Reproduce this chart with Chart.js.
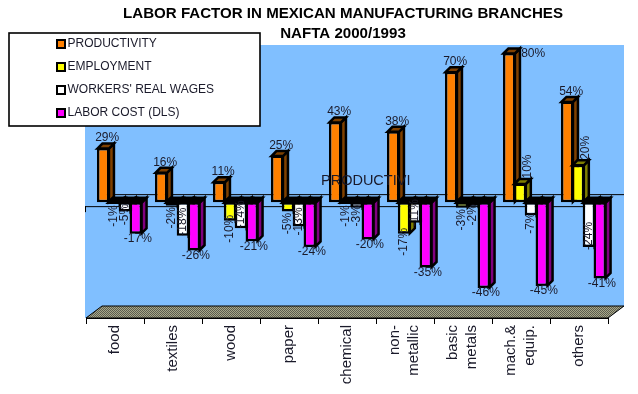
<!DOCTYPE html>
<html>
<head>
<meta charset="utf-8">
<title>Labor factor</title>
<script src="https://cdn.jsdelivr.net/npm/chart.js@4"></script>
<style>
html,body{margin:0;padding:0;background:#fff;}
#wrap{width:638px;height:394px;position:relative;}
</style>
</head>
<body>
<div id="wrap"><canvas id="c" width="638" height="394"></canvas></div>
<script>
const categories=['food','textiles','wood','paper','chemical',['non-','metallic'],['basic','metals'],['mach.&','equip.'],'others'];
const productivity=[29,16,11,25,43,38,70,80,54];
const employment=[-1,-2,-10,-5,-1,-17,-3,10,20];
const wages=[-5,-18,-14,-13,-3,-11,-2,-7,-24];
const laborCost=[-17,-26,-21,-24,-20,-35,-46,-45,-41];
const seriesNames=['PRODUCTIVITY','EMPLOYMENT',"WORKERS' REAL WAGES",'LABOR COST (DLS)'];
const fills=['#ff8000','#ffff00','#ffffff','#ff00ff'];
const sideFills=['#ff8000','#ffff00','#c0c0c0','#ff00ff'];

// los rótulos de salarios no siguen una regla clara en el original: corrimiento respecto del pie de barra
const wageLabelDy=[3,-14,-14,-5,8,-10,9,8,-11];
const WALL='#80bfff', TXT='#1a1a2a', FONT='"Liberation Sans", Arial, sans-serif';
const DX=4.5, DY=-4;   // plano de las barras respecto del plano frontal
const D=5;             // profundidad de cada barra
const BACK_X=16, BACK_Y=12; // fondo de la pared

function dither(color,dark){
  const p=document.createElement('canvas');p.width=2;p.height=2;
  const x=p.getContext('2d');
  x.fillStyle=color;x.fillRect(0,0,2,2);
  x.fillStyle=dark||'#000';
  x.fillRect(0,0,1,1);x.fillRect(1,1,1,1);
  return document.getElementById('c').getContext('2d').createPattern(p,'repeat');
}
function poly(ctx,pts,fill){
  ctx.beginPath();
  pts.forEach((p,i)=>i?ctx.lineTo(p[0],p[1]):ctx.moveTo(p[0],p[1]));
  ctx.closePath();
  ctx.fillStyle=fill;ctx.fill();
  ctx.lineWidth=2.5;ctx.strokeStyle='#000';ctx.lineJoin='miter';ctx.stroke();
}
function vtext(ctx,s,x,y){
  ctx.save();ctx.translate(x,y);ctx.rotate(-Math.PI/2);
  ctx.textAlign='center';ctx.textBaseline='middle';ctx.fillText(s,0,0);ctx.restore();
}

const wallPlugin={
  id:'wall',
  beforeDraw(chart){
    const ctx=chart.ctx,a=chart.chartArea,y0=chart.scales.y.getPixelForValue(0);
    ctx.save();
    ctx.fillStyle='#fff';ctx.fillRect(0,0,chart.width,chart.height);
    // pared
    ctx.fillStyle=WALL;
    ctx.beginPath();
    ctx.moveTo(a.left-1,a.top-BACK_Y);ctx.lineTo(a.right+BACK_X,a.top-BACK_Y);
    ctx.lineTo(a.right+BACK_X,a.bottom-BACK_Y);ctx.lineTo(a.right,a.bottom);ctx.lineTo(a.left-1,a.bottom);
    ctx.closePath();ctx.fill();
    // piso
    ctx.beginPath();
    ctx.moveTo(a.left,a.bottom);ctx.lineTo(a.left+BACK_X,a.bottom-BACK_Y);
    ctx.lineTo(a.right+BACK_X,a.bottom-BACK_Y);ctx.lineTo(a.right,a.bottom);ctx.closePath();
    ctx.fillStyle=dither('#a8a888','#5c5c50');ctx.fill();
    ctx.lineWidth=1;ctx.strokeStyle='#000';ctx.stroke();
    // líneas del cero, frente y fondo
    ctx.beginPath();
    ctx.moveTo(a.left-1,y0+.5);ctx.lineTo(a.right,y0+.5);
    ctx.moveTo(a.left+BACK_X,y0-BACK_Y+.5);ctx.lineTo(a.right+BACK_X,y0-BACK_Y+.5);
    ctx.moveTo(a.left-.5,y0);ctx.lineTo(a.left-.5,y0+6);
    ctx.stroke();
    ctx.restore();
  },
  beforeDatasetsDraw(chart){
    const ctx=chart.ctx,metas=chart.getSortedVisibleDatasetMetas();
    ctx.save();
    ctx.translate(DX,DY);
    categories.forEach((c,i)=>{
      metas.forEach((m,s)=>{
        const b=m.data[i],l=b.x-b.width/2+.5,r=b.x+b.width/2-.5;
        const top=Math.min(b.y,b.base)+.5,bot=Math.max(b.y,b.base)-.5;
        poly(ctx,[[r,top],[r+D,top-D],[r+D,bot-D],[r,bot]],dither(sideFills[s]));
        // en las barras negativas la cara superior queda casi toda negra
        poly(ctx,[[l,top],[l+D,top-D],[r+D,top-D],[r,top]],b.y>b.base?'#000':dither(sideFills[s]));
        b.draw(ctx);
      });
    });
    // rótulos de datos
    ctx.font='12px '+FONT;ctx.fillStyle=TXT;
    ctx.textAlign='center';ctx.textBaseline='middle';
    metas.forEach((m,s)=>{
      m.data.forEach((b,i)=>{
        const v=chart.data.datasets[s].data[i],txt=v+'%';
        if(s===0){
          if(v===80) ctx.fillText(txt,b.x+24,b.y+1);
          else ctx.fillText(txt,b.x+4,b.y-10);
        }else if(s===1){
          if(v>0) vtext(ctx,txt,b.x+8,b.y-17);
          else vtext(ctx,txt,b.x,b.y+(v<-5?8:12));
        }else if(s===2){
          vtext(ctx,txt,b.x,b.y+wageLabelDy[i]);
        }else{
          ctx.fillText(txt,b.x+2,b.y+5);
        }
      });
    });
    ctx.restore();
    return false;
  },
  afterDraw(chart){
    const ctx=chart.ctx,xs=chart.scales.x;
    ctx.save();
    // rótulos del eje: Chart.js no centra sobre la marca los de dos líneas girados
    ctx.font='15px '+FONT;ctx.fillStyle=TXT;ctx.textBaseline='middle';
    categories.forEach((c,i)=>{
      const lines=[].concat(c),px=xs.getPixelForTick(i)-.5;
      lines.forEach((t,k)=>{
        ctx.save();
        ctx.translate(px+(k-(lines.length-1)/2)*19,chart.chartArea.bottom+7);
        ctx.rotate(-Math.PI/2);ctx.textAlign='right';
        ctx.fillText(t,0,0);
        ctx.restore();
      });
    });
    // texto suelto del original
    ctx.font='14.5px '+FONT;ctx.textAlign='left';
    ctx.fillText('PRODUCTIVI',321,181);
    // leyenda
    ctx.fillStyle='#fff';ctx.fillRect(9,33,251,93);
    ctx.lineWidth=1.6;ctx.strokeStyle='#000';ctx.strokeRect(9,33,251,93);
    ctx.font='12px '+FONT;
    seriesNames.forEach((n,i)=>{
      const y=44+i*22.9;
      ctx.fillStyle='#000';ctx.fillRect(56,Math.round(y)-5,10,10);
      ctx.fillStyle=fills[i];ctx.fillRect(58,Math.round(y)-3,6,6);
      ctx.fillStyle=TXT;ctx.fillText(n,67.5,y);
    });
    ctx.restore();
  }
};

new Chart(document.getElementById('c').getContext('2d'),{
  type:'bar',
  data:{labels:categories,datasets:[productivity,employment,wages,laborCost].map((d,i)=>({
    label:seriesNames[i],data:d,backgroundColor:fills[i],borderColor:'#000',borderWidth:2.5,borderSkipped:false,
    categoryPercentage:0.75,barPercentage:1.15
  }))},
  options:{
    responsive:false,animation:false,
    layout:{padding:{left:78,right:30,top:4,bottom:0}},
    plugins:{
      legend:{display:false},tooltip:{enabled:false},
      title:{display:true,text:['LABOR FACTOR IN MEXICAN MANUFACTURING BRANCHES','NAFTA 2000/1993'],color:'#000',
        font:{family:FONT,size:15.1,weight:'bold',lineHeight:20/15.1},padding:{top:0,bottom:13}}
    },
    scales:{
      x:{
        border:{color:'#000',width:1},
        grid:{drawOnChartArea:false,tickLength:6,color:'#000'},
        ticks:{display:false},
        afterFit(s){s.height=76;}
      },
      y:{
        min:-60,max:80,
        grid:{display:false},border:{display:false},
        ticks:{display:false},
        afterFit(s){s.width=8;}
      }
    }
  },
  plugins:[wallPlugin]
});
</script>
</body>
</html>
